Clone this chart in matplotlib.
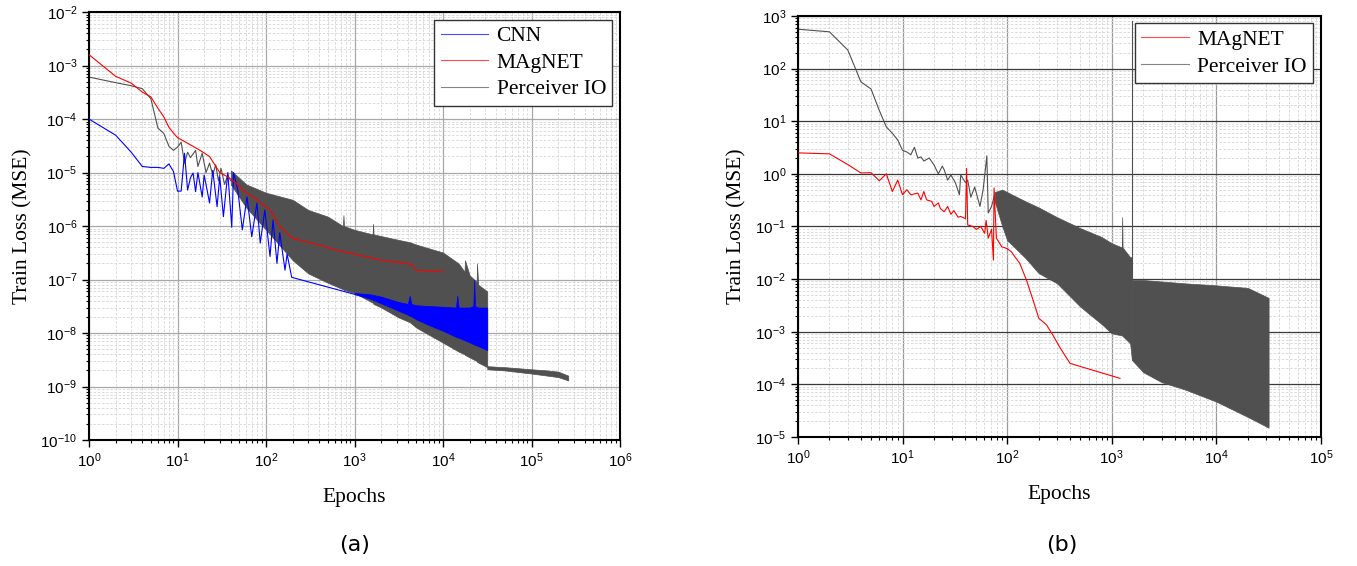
import matplotlib.pyplot as plt
import numpy as np
from matplotlib.ticker import LogLocator, NullFormatter

plt.rcParams['font.family'] = ['Liberation Sans', 'DejaVu Sans']

# ---------------- panel (a) data ----------------
# CNN, early per-epoch values
cnn_x = [1, 2, 3, 4, 5, 6, 7, 8, 9, 10, 11, 12, 13, 14, 15, 16, 17, 19, 20, 22, 23,
         25, 28, 30, 33, 37, 41, 43, 48, 54, 61, 69, 79, 86, 97, 111, 120, 133, 143,
         164, 173, 195, 1000]
cnn_y = [1.0e-4, 5.0e-5, 2.4e-5, 1.3e-5, 1.25e-5, 1.25e-5, 1.2e-5, 1.45e-5, 1.05e-5,
         4.5e-6, 4.5e-6, 2.3e-5, 4.7e-6, 8e-6, 9.8e-6, 4.4e-6, 1e-5, 3.5e-6, 9e-6,
         4e-6, 2.7e-6, 1.1e-5, 2.3e-6, 8.3e-6, 1.5e-6, 1e-5, 9.5e-7, 1e-5, 4.7e-6,
         8.5e-7, 3.5e-6, 6.3e-7, 2.7e-6, 4.8e-7, 2e-6, 2.7e-7, 1.3e-6, 2e-7, 7.5e-7,
         1.5e-7, 3e-7, 1.1e-7, 5.3e-8]
# CNN, noisy band after 1000 epochs
cnn_band_x = [1000, 1500, 2000, 3162, 4000, 4200, 4400, 5000, 7000, 10000, 14000, 14500,
              15000, 20000, 22000, 22500, 23000, 25000, 31623]
cnn_band_lo = [5.3e-8, 4.4e-8, 3.6e-8, 2.6e-8, 2.2e-8, 2.1e-8, 2.05e-8, 1.8e-8, 1.4e-8,
               1.1e-8, 8.5e-9, 8.3e-9, 8.2e-9, 6.7e-9, 6.2e-9, 6.1e-9, 6.0e-9, 5.7e-9,
               4.8e-9]
cnn_band_hi = [5.6e-8, 5.3e-8, 4.8e-8, 3.8e-8, 3.5e-8, 5e-8, 3.5e-8, 3.3e-8, 3.2e-8,
               3.1e-8, 3e-8, 5e-8, 3e-8, 3e-8, 3.2e-8, 1e-7, 3.2e-8, 3e-8, 3e-8]

# Perceiver IO
perc_x = [1, 2, 3, 4, 5, 6, 7, 8, 9, 10, 11, 12, 13, 14, 16, 17, 19, 21, 23, 25, 27,
          29, 31, 34, 37, 40]
perc_y = [6.1e-4, 4.8e-4, 4.2e-4, 3.7e-4, 2.4e-4, 6.8e-5, 5.4e-5, 3.1e-5, 2.6e-5,
          3.0e-5, 3.7e-5, 1.5e-5, 2.4e-5, 1.9e-5, 2.6e-5, 1.3e-5, 2.3e-5, 1.0e-5,
          1.5e-5, 9e-6, 1.4e-5, 7e-6, 1.2e-5, 6e-6, 9e-6, 7e-6]
perc_band_x = [40, 60, 100, 200, 300, 500, 740, 750, 760, 1000, 1600, 1620, 1640, 2000,
               3162, 4200, 5000, 10000, 15000, 17500, 17700, 20000, 24000, 24200,
               25000, 31623]
perc_band_lo = [6e-6, 2.2e-6, 8.5e-7, 2.3e-7, 1.3e-7, 8.7e-8, 6.6e-8, 6.5e-8, 6.4e-8,
                5.6e-8, 3.7e-8, 3.6e-8, 3.5e-8, 3e-8, 1.95e-8, 1.6e-8, 1.26e-8, 6.6e-9,
                4.5e-9, 4e-9, 3.9e-9, 3.5e-9, 3e-9, 2.9e-9, 2.8e-9, 2.3e-9]
perc_band_hi = [1.1e-5, 6e-6, 4.2e-6, 3.1e-6, 2e-6, 1.5e-6, 1.0e-6, 1.6e-6, 1.0e-6,
                8.5e-7, 7e-7, 1.1e-6, 7e-7, 6.5e-7, 5.5e-7, 5e-7, 4.5e-7, 3.2e-7, 2e-7,
                1.4e-7, 2.3e-7, 1.2e-7, 9e-8, 2e-7, 8e-8, 6e-8]
perc_tail_x = [31623, 50000, 100000, 150000, 200000, 260000]
perc_tail_lo = [2.1e-9, 2.0e-9, 1.75e-9, 1.6e-9, 1.5e-9, 1.3e-9]
perc_tail_hi = [2.4e-9, 2.3e-9, 2.1e-9, 2.0e-9, 1.9e-9, 1.6e-9]

# MAgNET
mag_x = [1, 2, 3, 4, 5, 6, 7, 8, 9, 10, 14, 18, 23, 30, 37, 45, 55, 79, 111, 144,
         200, 400, 700, 1000, 2000, 4000, 4600, 5000, 10000]
mag_y = [1.6e-3, 6.3e-4, 4.7e-4, 3.2e-4, 2.6e-4, 1.6e-4, 1.1e-4, 7e-5, 5.5e-5, 4.5e-5,
         3.3e-5, 2.6e-5, 2e-5, 1e-5, 8.3e-6, 6.5e-6, 4.7e-6, 3.1e-6, 2e-6, 9.6e-7,
         5.9e-7, 4.4e-7, 3.4e-7, 3.0e-7, 2.3e-7, 2.0e-7, 1.8e-7, 1.5e-7, 1.4e-7]

# ---------------- panel (b) data ----------------
mag_b_x = [1, 2, 3, 4, 5, 6, 7, 8, 9, 10, 11, 12, 14, 15, 16, 17, 19, 20, 22, 23, 25,
           27, 29, 31, 34, 36, 40, 41, 42, 47, 51, 56, 61, 63, 66, 71, 74, 75, 79, 89,
           100, 110, 118, 132, 153, 177, 201, 238, 275, 320, 400, 764, 1200]
mag_b_y = [2.5, 2.4, 1.5, 1.04, 1.05, 0.74, 1.0, 0.46, 0.76, 0.4, 0.5, 0.4, 0.43, 0.32,
           0.46, 0.32, 0.3, 0.24, 0.28, 0.22, 0.19, 0.24, 0.17, 0.2, 0.15, 0.155, 0.14,
           1.27, 0.107, 0.1, 0.088, 0.1, 0.074, 0.13, 0.06, 0.088, 0.023, 0.54, 0.06,
           0.041, 0.038, 0.033, 0.027, 0.02, 9.6e-3, 4e-3, 1.8e-3, 1.35e-3, 8.5e-4,
           5e-4, 2.5e-4, 1.7e-4, 1.3e-4]

perc_b_x = [1, 2, 3, 4, 5, 6, 7, 8, 9, 10, 11, 12, 13, 14, 15, 16, 18, 20, 22, 24, 25,
            27, 29, 32, 35, 36, 40, 42, 45, 49, 55, 59, 64, 66, 71, 76]
perc_b_y = [560, 500, 225, 56, 41, 16, 7.8, 5.9, 4.4, 2.8, 2.6, 2.3, 3.2, 2.0, 2.1,
            1.75, 2.0, 1.48, 1.0, 1.4, 1.2, 0.76, 0.95, 0.68, 0.4, 0.95, 0.68, 0.76,
            0.36, 0.56, 0.24, 0.5, 2.2, 0.18, 0.24, 0.4]
perc_b_band_x = [76, 90, 100, 150, 200, 300, 500, 800, 1000, 1250, 1260, 1270, 1500, 1560]
perc_b_band_lo = [0.3, 0.1, 0.055, 0.025, 0.013, 8.3e-3, 3e-3, 1.4e-3, 9.3e-4, 8.5e-4,
                  8.4e-4, 8.3e-4, 6e-4, 2.9e-4]
perc_b_band_hi = [0.45, 0.5, 0.45, 0.3, 0.23, 0.15, 0.093, 0.063, 0.048, 0.04, 0.15, 0.04,
                  0.026, 0.026]
perc_b_tail_x = [1560, 2000, 3000, 5000, 10000, 20000, 31623]
perc_b_tail_lo = [2.9e-4, 1.7e-4, 1.1e-4, 8e-5, 4.7e-5, 2.4e-5, 1.5e-5]
perc_b_tail_hi = [9.6e-3, 9.6e-3, 9e-3, 8.3e-3, 7.6e-3, 6.8e-3, 4.4e-3]
perc_b_spike_x = [1560, 1560]
perc_b_spike_y = [0.01, 800]

GRAY = '#505050'
BLUE = '#0000ff'
RED = '#ff0000'
LW = 0.8

fig = plt.figure(figsize=(13.57, 5.66), dpi=100)
ax_a = fig.add_axes([0.0656, 0.2226, 0.3913, 0.756])
ax_b = fig.add_axes([0.588, 0.228, 0.3854, 0.7438])


def style_axes(ax, xdec, ydec, hmaj_color, vmaj_color):
    ax.set_xscale('log')
    ax.set_yscale('log')
    ax.set_xticks(10.0 ** np.arange(xdec[0], xdec[1] + 1))
    ax.set_yticks(10.0 ** np.arange(ydec[0], ydec[1] + 1))
    ax.set_xlim(10.0 ** xdec[0], 10.0 ** xdec[1])
    ax.set_ylim(10.0 ** ydec[0], 10.0 ** ydec[1])
    for a in (ax.xaxis, ax.yaxis):
        a.set_minor_locator(LogLocator(base=10, subs=np.arange(2, 10), numticks=200))
        a.set_minor_formatter(NullFormatter())
    ax.grid(which='minor', color='#d4d4d4', linestyle=(0, (3, 2)), linewidth=0.6)
    ax.grid(which='major', axis='x', color=vmaj_color, linewidth=0.9)
    ax.grid(which='major', axis='y', color=hmaj_color, linewidth=0.9)
    ax.set_axisbelow(True)
    ax.tick_params(which='major', direction='out', length=5, width=1.0, labelsize=11)
    ax.tick_params(which='minor', direction='out', length=2.5, width=0.8)
    for s in ax.spines.values():
        s.set_linewidth(1.5)
    ax.set_xlabel('Epochs', family='Liberation Serif', fontsize=15.5, labelpad=13)
    ax.set_ylabel('Train Loss (MSE)', family='Liberation Serif', fontsize=15.5, labelpad=6)


def add_legend(ax, handles, labels):
    leg = ax.legend(handles, labels, loc='upper right', fancybox=False,
                    edgecolor='#333333', prop={'family': 'Liberation Serif', 'size': 15.5},
                    handlelength=2.2, labelspacing=0.3, borderaxespad=0.35,
                    borderpad=0.3, handletextpad=0.4, framealpha=1)
    leg.get_frame().set_linewidth(1.0)
    for h in leg.get_lines():
        h.set_alpha(0.7)


# panel (a)
ax_a.fill_between(perc_band_x, perc_band_lo, perc_band_hi, color=GRAY, lw=0.5, zorder=2)
ax_a.fill_between(perc_tail_x, perc_tail_lo, perc_tail_hi, color=GRAY, lw=0.5, zorder=2)
l_perc, = ax_a.plot(perc_x, perc_y, color=GRAY, lw=LW, zorder=2)
ax_a.fill_between(cnn_band_x, cnn_band_lo, cnn_band_hi, color=BLUE, lw=0.5, zorder=3)
l_cnn, = ax_a.plot(cnn_x, cnn_y, color=BLUE, lw=LW, zorder=3)
l_mag, = ax_a.plot(mag_x, mag_y, color=RED, lw=LW, zorder=4)
style_axes(ax_a, (0, 6), (-10, -2), '#a8a8a8', '#a8a8a8')
add_legend(ax_a, [l_cnn, l_mag, l_perc], ['CNN', 'MAgNET', 'Perceiver IO'])

# panel (b)
ax_b.fill_between(perc_b_band_x, perc_b_band_lo, perc_b_band_hi, color=GRAY, lw=0.5, zorder=2)
ax_b.fill_between(perc_b_tail_x, perc_b_tail_lo, perc_b_tail_hi, color=GRAY, lw=0.5, zorder=2)
l_perc_b, = ax_b.plot(perc_b_x, perc_b_y, color=GRAY, lw=LW, zorder=2)
ax_b.plot(perc_b_spike_x, perc_b_spike_y, color=GRAY, lw=LW, zorder=2)
l_mag_b, = ax_b.plot(mag_b_x, mag_b_y, color=RED, lw=LW, zorder=4)
style_axes(ax_b, (0, 5), (-5, 3), '#3a3a3a', '#9a9a9a')
add_legend(ax_b, [l_mag_b, l_perc_b], ['MAgNET', 'Perceiver IO'])

fig.text(355 / 1357, 1 - 545 / 566, '(a)', ha='center', va='center',
         family='DejaVu Sans', fontsize=16)
fig.text(1062 / 1357, 1 - 545 / 566, '(b)', ha='center', va='center',
         family='DejaVu Sans', fontsize=16)

fig.savefig('out.png', dpi=100)
